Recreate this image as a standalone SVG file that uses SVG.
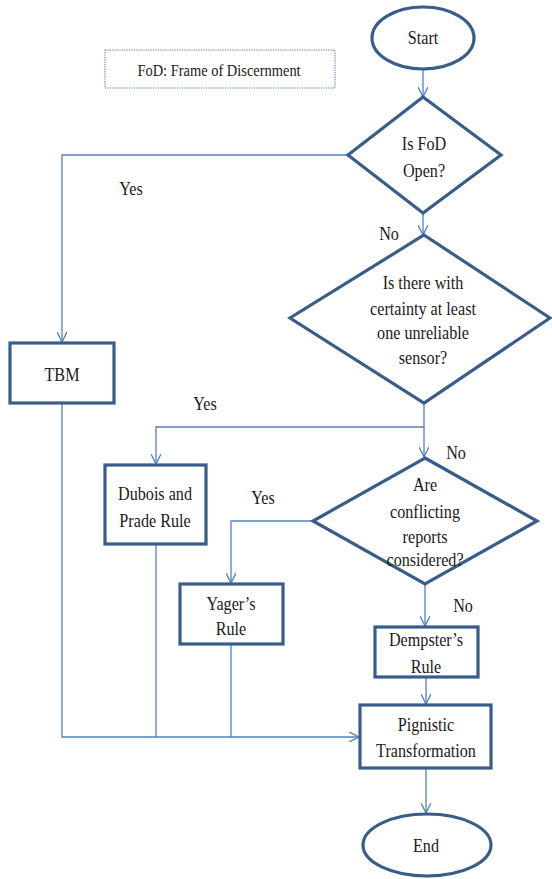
<svg xmlns="http://www.w3.org/2000/svg" width="552" height="879" viewBox="0 0 552 879">
<style>
.node{fill:#fff;stroke:#385D8A;stroke-width:3.2}
.con{fill:none;stroke:#4F81BD;stroke-width:1.3}
.t{font-family:"Liberation Serif","Times New Roman","DejaVu Serif",serif;font-size:19px;fill:#1a1a1a;text-anchor:middle}
.note{fill:#fff;stroke:#4a6a9a;stroke-width:1;stroke-dasharray:1.2 1.2}
</style>
<defs>
<marker id="arr" viewBox="0 0 10 10" refX="10" refY="5" markerWidth="10" markerHeight="10" markerUnits="userSpaceOnUse" orient="auto">
<path d="M0,0 L10,5 L0,10" fill="none" stroke="#4F81BD" stroke-width="1.3"/>
</marker>
</defs>
<rect width="552" height="879" fill="#fff"/>

<g id="note">
<rect class="note" x="105" y="50" width="230" height="38"/>
<text class="t" font-family="Liberation Serif, serif" style="font-size:17px" transform="matrix(.85,0,0,1,219,76)">FoD: Frame of Discernment</text>
</g>

<g id="connectors">
<path class="con" d="M423,70 V97" marker-end="url(#arr)"/>
<path class="con" d="M348,155 H62 V342" marker-end="url(#arr)"/>
<path class="con" d="M423,213 V235" marker-end="url(#arr)"/>
<path class="con" d="M424,403 V427 H156 V464" marker-end="url(#arr)"/>
<path class="con" d="M424,427 V457" marker-end="url(#arr)"/>
<path class="con" d="M313,521 H231 V583" marker-end="url(#arr)"/>
<path class="con" d="M425,584 V626" marker-end="url(#arr)"/>
<path class="con" d="M426,677 V704" marker-end="url(#arr)"/>
<path class="con" d="M62,404 V737 H359" marker-end="url(#arr)"/>
<path class="con" d="M156,545 V737"/>
<path class="con" d="M231,645 V737"/>
<path class="con" d="M426,769 V813" marker-end="url(#arr)"/>
<text class="t" transform="matrix(.85,0,0,1,131,195)">Yes</text>
<text class="t" transform="matrix(.85,0,0,1,389,240)">No</text>
<text class="t" transform="matrix(.85,0,0,1,205,410)">Yes</text>
<text class="t" transform="matrix(.85,0,0,1,456,459)">No</text>
<text class="t" transform="matrix(.85,0,0,1,263,504)">Yes</text>
<text class="t" transform="matrix(.85,0,0,1,463,612)">No</text>
</g>

<g id="start">
<ellipse class="node" cx="423" cy="38" rx="51" ry="31"/>
<text class="t" transform="matrix(.85,0,0,1,423,44)">Start</text>
</g>

<g id="fod-open">
<polygon class="node" points="423,97 501,155 423,213 348,155"/>
<text class="t" transform="matrix(.85,0,0,1,424,150)"><tspan x="0" y="0">Is FoD</tspan><tspan x="0" y="27">Open?</tspan></text>
</g>

<g id="unreliable">
<polygon class="node" points="424,235 550,318 424,403 290,318"/>
<text class="t" transform="matrix(.85,0,0,1,423,289)"><tspan x="0" y="0">Is there with</tspan><tspan x="0" y="26">certainty at least</tspan><tspan x="0" y="50">one unreliable</tspan><tspan x="0" y="75">sensor?</tspan></text>
</g>

<g id="tbm">
<rect class="node" x="10" y="343" width="104" height="60"/>
<text class="t" transform="matrix(.85,0,0,1,62,381)">TBM</text>
</g>

<g id="dubois">
<rect class="node" x="105" y="465" width="101" height="79"/>
<text class="t" transform="matrix(.85,0,0,1,155,500)"><tspan x="0" y="0">Dubois and</tspan><tspan x="0" y="27">Prade Rule</tspan></text>
</g>

<g id="conflicting">
<polygon class="node" points="425,458 537,521 425,584 313,521"/>
<text class="t" transform="matrix(.85,0,0,1,425,491)"><tspan x="0" y="0">Are</tspan><tspan x="0" y="27">conflicting</tspan><tspan x="0" y="52">reports</tspan><tspan x="0" y="75">considered?</tspan></text>
</g>

<g id="yager">
<rect class="node" x="180" y="584" width="103" height="60"/>
<text class="t" transform="matrix(.85,0,0,1,231,610)"><tspan x="0" y="0">Yager’s</tspan><tspan x="0" y="25">Rule</tspan></text>
</g>

<g id="dempster">
<rect class="node" x="375" y="627" width="103" height="50"/>
<text class="t" transform="matrix(.85,0,0,1,426,646)"><tspan x="0" y="0">Dempster’s</tspan><tspan x="0" y="27">Rule</tspan></text>
</g>

<g id="pignistic">
<rect class="node" x="360" y="705" width="131" height="63"/>
<text class="t" transform="matrix(.85,0,0,1,426,731)"><tspan x="0" y="0">Pignistic</tspan><tspan x="0" y="26">Transformation</tspan></text>
</g>

<g id="end">
<ellipse class="node" cx="427" cy="845" rx="64" ry="31"/>
<text class="t" transform="matrix(.85,0,0,1,426,852)">End</text>
</g>
</svg>
